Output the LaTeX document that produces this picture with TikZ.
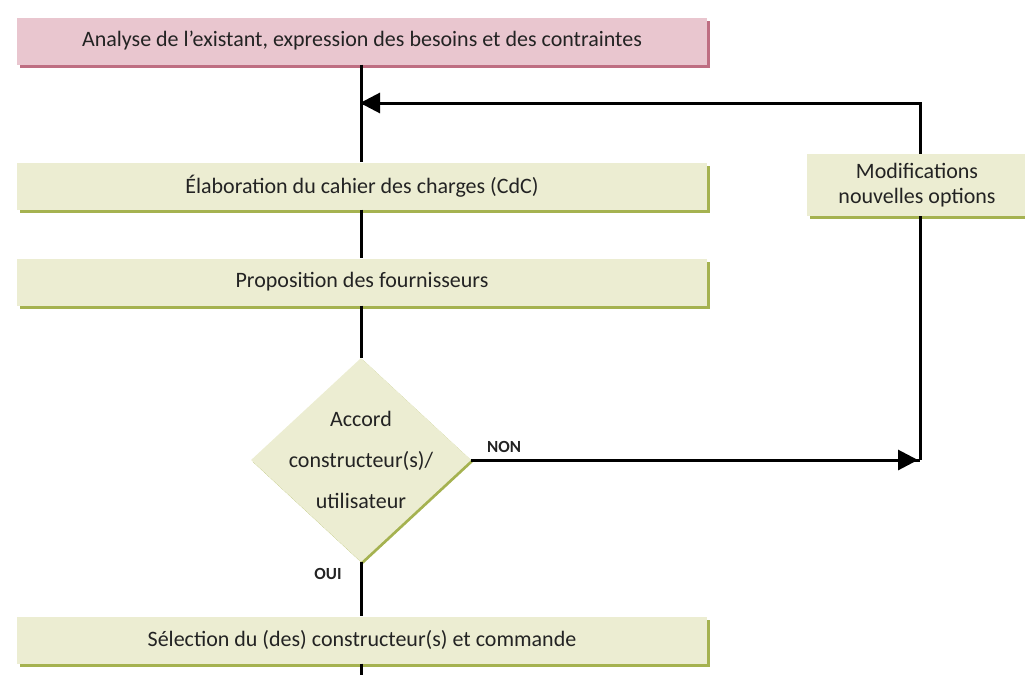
\documentclass[tikz,border=0pt]{standalone}
\usepackage{fontspec}
\setmainfont{Carlito}
\usetikzlibrary{shapes.geometric,shadows,arrows.meta}
\definecolor{boxfill}{RGB}{236,237,210}
\definecolor{boxshadow}{RGB}{165,178,80}
\definecolor{pinkfill}{RGB}{233,198,207}
\definecolor{pinkshadow}{RGB}{190,110,130}
\definecolor{ink}{RGB}{35,35,35}
\tikzset{
  greenbox/.style={rectangle, fill=boxfill, minimum width=690pt, minimum height=47pt,
     inner sep=0pt, font=\fontsize{22}{24}\selectfont, text=ink,
     drop shadow={shadow xshift=3pt, shadow yshift=-3pt, fill=boxshadow, opacity=1}},
  pinkbox/.style={greenbox, fill=pinkfill,
     drop shadow={shadow xshift=3pt, shadow yshift=-3pt, fill=pinkshadow, opacity=1}},
  sidebox/.style={rectangle, fill=boxfill, minimum width=220pt, minimum height=62pt,
     inner sep=0pt, align=center, font=\fontsize{22}{25}\selectfont, text=ink,
     drop shadow={shadow xshift=3pt, shadow yshift=-3pt, fill=boxshadow, opacity=1}},
  decision/.style={diamond, fill=boxfill, minimum width=220pt, minimum height=204pt,
     inner sep=-60pt, align=center, font=\fontsize{22}{41}\selectfont, text=ink,
     drop shadow={shadow xshift=2pt, shadow yshift=-2pt, fill=boxshadow, opacity=1}},
  flow/.style={line width=3pt, draw=black},
  tip/.style={-{Triangle[length=20pt,width=20pt]}},
  tag/.style={font=\bfseries\fontsize{17}{18}\selectfont, text=ink, inner sep=0pt}
}
\begin{document}
\begin{tikzpicture}[x=1pt,y=-1pt]
\useasboundingbox (0,0) rectangle (1025,675);
\node[pinkbox] (a) at (362,41) {Analyse de l'existant, expression des besoins et des contraintes};
\node[greenbox] (b) at (362,186) {Élaboration du cahier des charges (CdC)};
\node[greenbox] (c) at (362,282) {Proposition des fournisseurs};
\node[decision] (d) at (361,460) {Accord\\constructeur(s)/\\utilisateur};
\node[greenbox] (e) at (362,640) {Sélection du (des) constructeur(s) et commande};
\node[sidebox] (m) at (917,185) {Modifications\\nouvelles options};
\node[tag] (non) at (504,447) {NON};
\node[tag] (oui) at (328,574) {OUI};
\coordinate (top) at (920,103);
\coordinate (bot) at (920,460);
\coordinate (join) at (361,103);
\coordinate (end) at (361,675);
\draw[flow] (a.south -| join) -- (b.north -| join);
\draw[flow] (b.south -| join) -- (c.north -| join);
\draw[flow] (c.south -| join) -- (d.north);
\draw[flow] (d.south) -- (e.north -| join);
\draw[flow] (e.south -| join) -- (end);
\draw[flow] (d.east) -- (bot);
\draw[flow, tip] (d.east) -- ([xshift=-2pt]bot);
\draw[flow] (bot) -- (m.south -| bot);
\draw[flow] (m.north -| top) -- (top) -- (join);
\draw[flow, tip] (top) -- ([xshift=-1pt]join);
\end{tikzpicture}
\end{document}
